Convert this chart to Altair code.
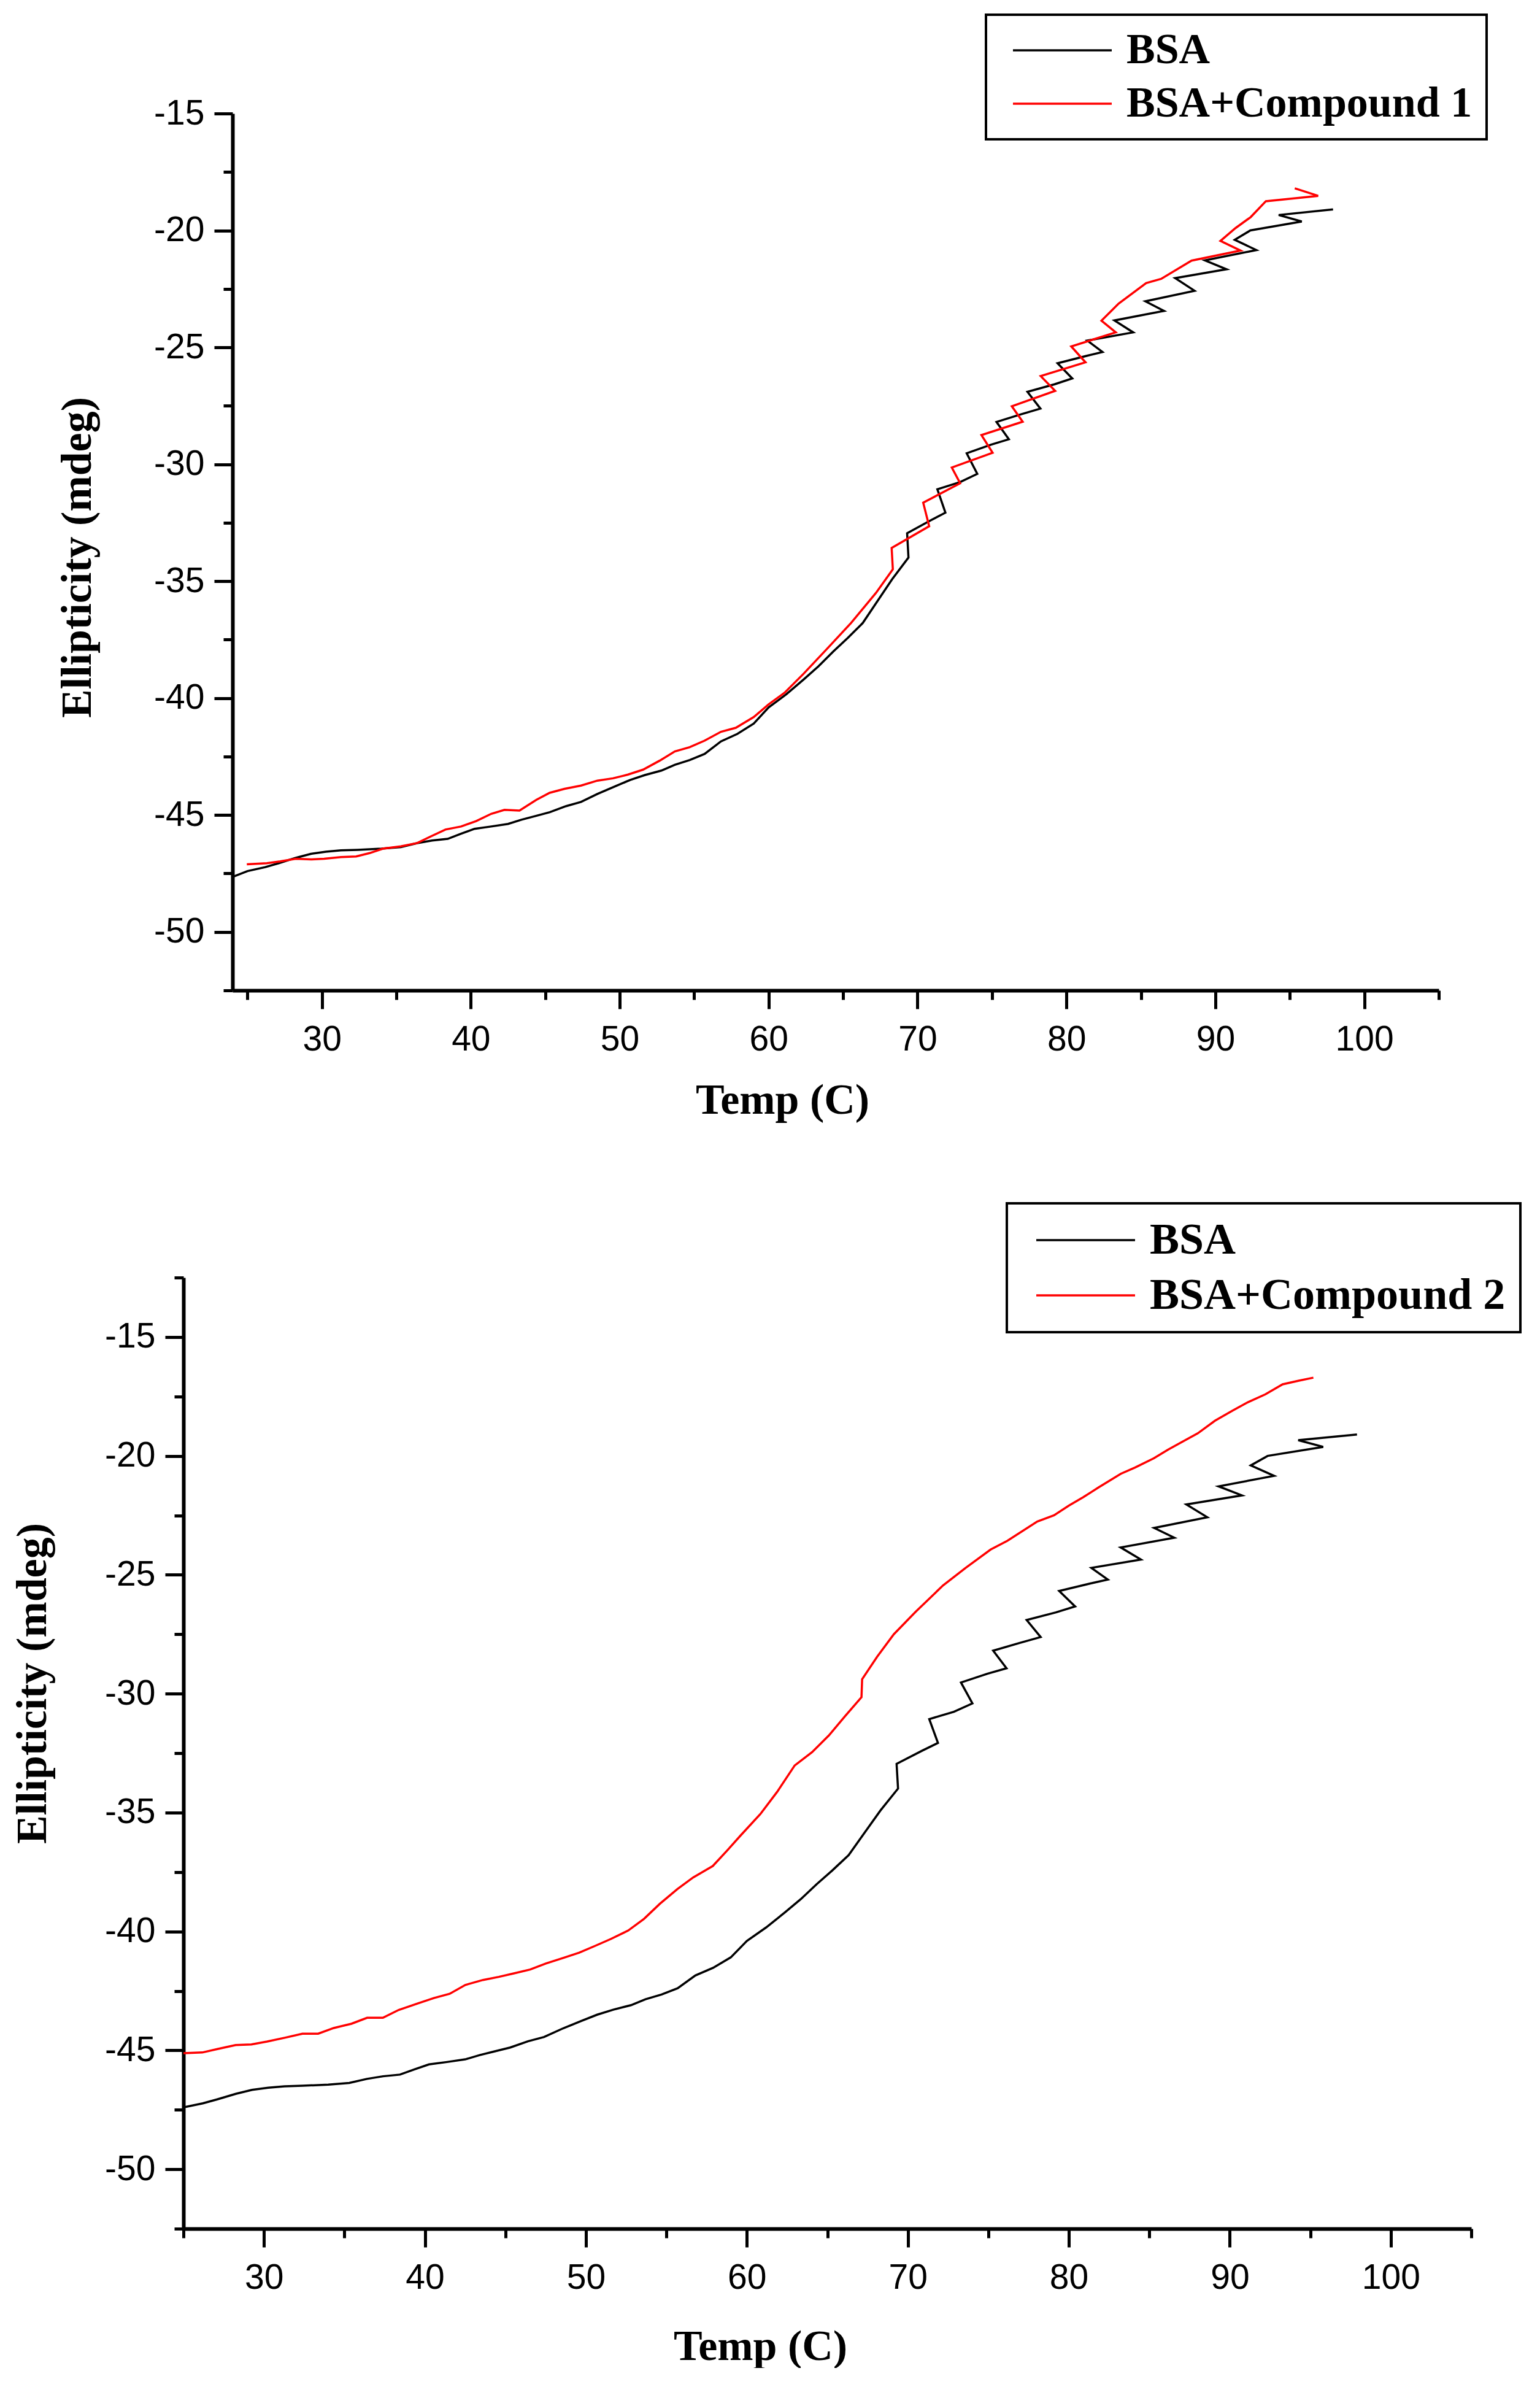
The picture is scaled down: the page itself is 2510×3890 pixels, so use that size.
import altair as alt
import pandas as pd

# ---------------- data ----------------
temp_bsa = [24.0, 25.0, 26.2, 27.1, 28.25, 29.26, 30.27, 31.28, 32.4, 34.0, 35.3, 36.4, 37.4,
            38.45, 39.35, 40.25, 41.37, 42.5, 43.4, 44.3, 45.3, 46.4, 47.4, 48.5, 49.7, 50.7,
            51.7, 52.8, 53.7, 54.7, 55.7, 56.8, 57.9, 59.0, 60.0, 61.2, 62.36, 63.35, 64.34,
            65.33, 66.32, 67.31, 68.3, 69.39, 69.3, 70.88, 71.87, 71.33, 72.86, 74.01, 73.3,
            74.94, 76.13, 75.3, 76.92, 78.25, 77.38, 79.2, 80.39, 79.4, 81.38, 82.42, 81.4,
            84.48, 83.22, 86.55, 85.3, 88.6, 87.3, 90.75, 89.3, 92.75, 91.3, 92.35, 95.8,
            94.25, 97.9]
ell_bsa = [-47.65, -47.4, -47.23, -47.06, -46.83, -46.66, -46.57, -46.51, -46.49, -46.44,
           -46.37, -46.2, -46.09, -46.02, -45.8, -45.59, -45.49, -45.38, -45.2, -45.05,
           -44.88, -44.62, -44.44, -44.1, -43.77, -43.5, -43.29, -43.1, -42.85, -42.65,
           -42.39, -41.85, -41.53, -41.09, -40.4, -39.83, -39.2, -38.64, -38.01, -37.42,
           -36.79, -35.85, -34.91, -33.99, -32.95, -32.4, -32.07, -31.07, -30.76, -30.41,
           -29.53, -29.16, -28.93, -28.19, -27.87, -27.62, -26.9, -26.58, -26.33, -25.68,
           -25.36, -25.2, -24.71, -24.36, -23.85, -23.44, -23.03, -22.58, -22.04, -21.66,
           -21.28, -20.84, -20.4, -20.0, -19.62, -19.34, -19.1]

temp_c1 = [24.96, 26.3, 27.2, 28.25, 29.26, 30.15, 31.28, 32.3, 33.2, 34.1, 35.3, 36.4, 37.3,
           38.3, 39.35, 40.36, 41.37, 42.26, 43.27, 44.4, 45.3, 46.3, 47.4, 48.5, 49.55,
           50.56, 51.57, 52.7, 53.7, 54.7, 55.7, 56.8, 57.8, 59.0, 60.0, 61.07, 62.36, 63.94,
           65.53, 67.21, 68.34, 68.26, 70.78, 70.38, 72.86, 72.3, 75.04, 74.29, 77.06, 76.33,
           79.24, 78.27, 81.28, 80.32, 83.31, 82.35, 83.5, 85.35, 86.36, 88.4, 91.69, 90.34,
           91.35, 92.37, 93.39, 96.9, 95.33]
ell_c1 = [-47.11, -47.06, -46.98, -46.87, -46.9, -46.87, -46.8, -46.77, -46.63, -46.44,
          -46.34, -46.2, -45.92, -45.62, -45.49, -45.26, -44.95, -44.78, -44.81, -44.35,
          -44.05, -43.88, -43.74, -43.53, -43.43, -43.27, -43.06, -42.67, -42.28, -42.1,
          -41.82, -41.44, -41.27, -40.81, -40.27, -39.77, -38.95, -37.88, -36.79, -35.5,
          -34.49, -33.58, -32.65, -31.64, -30.81, -30.14, -29.51, -28.75, -28.18, -27.52,
          -26.86, -26.23, -25.64, -24.96, -24.36, -23.86, -23.13, -22.25, -22.07, -21.29,
          -20.86, -20.45, -19.9, -19.43, -18.75, -18.52, -18.2]

temp_c2 = [25.0, 26.17, 27.15, 28.24, 29.22, 30.2, 31.29, 32.39, 33.37, 34.34, 35.44, 36.41,
           37.39, 38.37, 39.59, 40.56, 41.54, 42.51, 43.61, 44.59, 45.56, 46.54, 47.51, 48.61,
           49.59, 50.56, 51.54, 52.63, 53.61, 54.59, 55.68, 56.66, 57.88, 58.77, 59.6, 60.84,
           61.88, 62.97, 64.05, 65.09, 66.12, 67.12, 67.16, 68.09, 69.13, 70.48, 72.18, 73.59,
           75.14, 76.18, 78.04, 79.08, 80.01, 80.89, 81.86, 83.23, 84.11, 85.28, 86.16, 87.04,
           88.01, 89.08, 90.16, 91.13, 92.21, 93.28, 94.25, 95.19]
ell_c2 = [-45.12, -45.09, -44.94, -44.78, -44.75, -44.63, -44.47, -44.3, -44.3, -44.06,
          -43.88, -43.63, -43.63, -43.3, -43.02, -42.8, -42.62, -42.25, -42.04, -41.91,
          -41.76, -41.6, -41.35, -41.11, -40.89, -40.61, -40.32, -39.96, -39.47, -38.84,
          -38.22, -37.73, -37.25, -36.6, -35.97, -35.06, -34.13, -33.02, -32.46, -31.76,
          -30.93, -30.15, -29.39, -28.45, -27.5, -26.56, -25.45, -24.71, -23.94, -23.57,
          -22.76, -22.5, -22.09, -21.74, -21.32, -20.75, -20.49, -20.1, -19.74, -19.41,
          -19.05, -18.52, -18.1, -17.74, -17.41, -16.99, -16.84, -16.71]

names_top = ["BSA", "BSA+Compound 1"]
names_bottom = ["BSA", "BSA+Compound 2"]
x_ticks_top = [25, 30, 35, 40, 45, 50, 55, 60, 65, 70, 75, 80, 85, 90, 95, 100, 105]
x_ticks_bottom = [25, 30, 35, 40, 45, 50, 55, 60, 65, 70, 75, 80, 85, 90, 95, 100, 105]
y_ticks_top = [-52.5, -50, -47.5, -45, -42.5, -40, -37.5, -35, -32.5, -30, -27.5, -25,
               -22.5, -20, -17.5, -15]
y_ticks_bottom = [-52.5, -50, -47.5, -45, -42.5, -40, -37.5, -35, -32.5, -30, -27.5, -25,
                  -22.5, -20, -17.5, -15, -12.5]
series_colors = ["#000000", "#ff0000"]


def frame(temps, vals, name):
    return pd.DataFrame({"t": temps, "v": vals, "s": name, "i": list(range(len(temps)))})


df_top = pd.concat([frame(temp_bsa, ell_bsa, names_top[0]),
                    frame(temp_c1, ell_c1, names_top[1])], ignore_index=True)
df_bottom = pd.concat([frame(temp_bsa, ell_bsa, names_bottom[0]),
                       frame(temp_c2, ell_c2, names_bottom[1])], ignore_index=True)


def panel(df, names, xdom, ydom, xticks, yticks, w, h, legxy, legfs, legpad, legrow,
          legsym, xtitle_xy, ytitle_xy):
    color = alt.Color(
        "s:N",
        scale=alt.Scale(domain=names, range=series_colors),
        legend=alt.Legend(
            title=None,
            orient="none", legendX=legxy[0], legendY=legxy[1],
            strokeColor="#000000", padding=legpad, symbolType="stroke",
            symbolSize=161 * 161, symbolStrokeWidth=3.5, symbolOffset=legsym,
            labelFont="Liberation Serif", labelFontWeight="bold", labelFontSize=legfs,
            labelColor="#000000", labelLimit=2000, labelOffset=22,
            clipHeight=legfs, rowPadding=legrow,
        ),
    )
    xaxis = alt.Axis(
        values=xticks, title="Temp (C)",
        labelExpr="datum.value % 10 === 0 ? '' + datum.value : ''",
        tickSize={"condition": {"test": "datum.value % 10 === 0", "value": 30}, "value": 15},
        labelPadding=22,
        titleX=xtitle_xy[0], titleY=xtitle_xy[1], titleBaseline="middle", titleAlign="center",
    )
    yaxis = alt.Axis(
        values=yticks, title="Ellipticity (mdeg)",
        labelExpr="datum.value % 5 === 0 ? '' + datum.value : ''",
        tickSize={"condition": {"test": "datum.value % 5 === 0", "value": 30}, "value": 15},
        labelPadding=16,
        titleX=ytitle_xy[0], titleY=ytitle_xy[1], titleBaseline="middle", titleAlign="center",
        titleAngle=270,
    )
    return (
        alt.Chart(df)
        .mark_line(strokeWidth=3.5, clip=True)
        .encode(
            x=alt.X("t:Q", scale=alt.Scale(domain=xdom, nice=False, zero=False), axis=xaxis),
            y=alt.Y("v:Q", scale=alt.Scale(domain=ydom, nice=False, zero=False), axis=yaxis),
            color=color,
            order=alt.Order("i:Q"),
        )
        .properties(width=w, height=h)
    )


def spacer(w):
    # empty white view used only to indent a panel horizontally
    return (
        alt.Chart(pd.DataFrame({"s": []}))
        .mark_point()
        .properties(width=w, height=1, view=alt.ViewBackground(fill="#ffffff", stroke=None))
    )


# legend x offsets are measured from the left edge of each row
top = panel(df_top, names_top, [24, 105], [-52.5, -15], x_ticks_top, y_ticks_top,
            1966, 1429, (1590, -161), 70, 23, 17, 19, (896, 179), (-253, 723))
bottom = panel(df_bottom, names_bottom, [25, 105], [-52.5, -12.5], x_ticks_bottom, y_ticks_bottom,
               2099, 1550, (1624, -121), 72, 24, 18, 22, (940, 192), (-246, 661))

top_row = alt.hconcat(spacer(74), top, spacing=0)
bottom_row = alt.hconcat(spacer(1), bottom, spacing=0)

chart = (
    alt.vconcat(top_row, bottom_row, spacing=131)
    .resolve_scale(color="independent", x="independent", y="independent")
    .resolve_legend(color="independent")
    .properties(padding={"left": 9, "top": 14, "right": 0, "bottom": 0}, background="#ffffff")
    .configure_view(stroke=None)
    .configure_axis(
        domainColor="#000000", domainWidth=6, tickColor="#000000", tickWidth=5,
        labelFont="Liberation Sans", labelFontSize=57, labelColor="#000000",
        titleFont="Liberation Serif", titleFontWeight="bold", titleFontSize=70,
        titleColor="#000000", grid=False, labelOverlap=False,
    )
    .configure_legend(strokeWidth=4)
)

chart.save("out.html", embed_options={"renderer": "svg", "actions": False})
